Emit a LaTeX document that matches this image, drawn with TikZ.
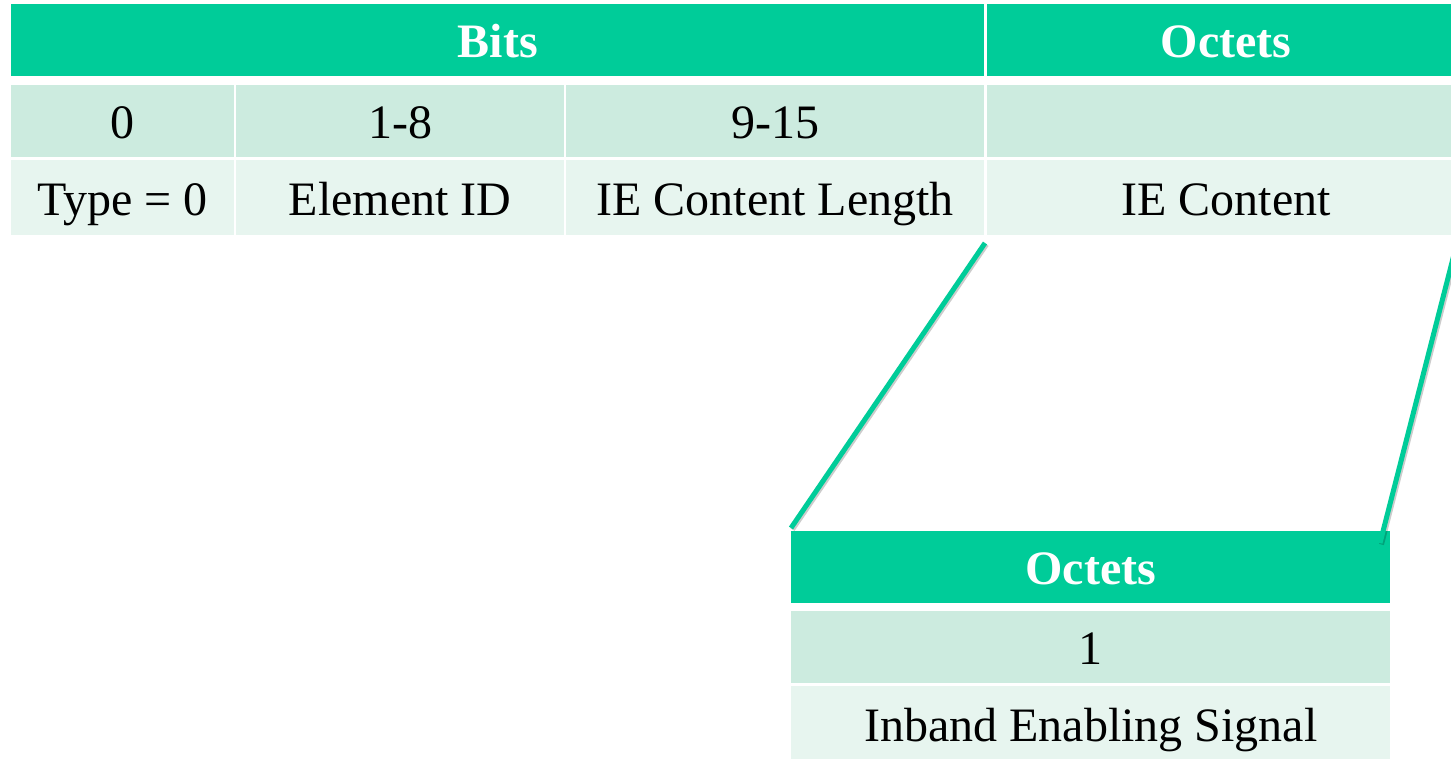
\documentclass[tikz,border=0pt]{standalone}
\usepackage{fontspec}
\setmainfont{Liberation Serif}
\definecolor{hdgreen}{RGB}{0,204,153}
\definecolor{rowmid}{RGB}{204,235,223}
\definecolor{rowlight}{RGB}{231,245,239}
\tikzset{
  cell/.style={rectangle, anchor=north west, inner sep=0pt, minimum height=72pt, text height=40pt, text depth=5pt, font=\fontsize{48}{58}\selectfont},
  head/.style={cell, fill=hdgreen, text=white, font=\fontsize{48}{58}\selectfont\bfseries},
  mid/.style={cell, fill=rowmid},
  low/.style={cell, fill=rowlight, minimum height=75pt},
  zoomline/.style={hdgreen, line width=5pt},
  zoomshade/.style={black, opacity=0.2, line width=5pt, transform canvas={shift={(1.5,1.5)}}}
}

\begin{document}
\begin{tikzpicture}[x=1pt,y=-1pt]
\clip (0,0) rectangle (1451,758);
\fill[white] (0,0) rectangle (1451,758);
% upper table
\node[head, minimum width=973pt] (bits) at (11,4) {Bits};
\node[head, minimum width=478pt] (octets) at (987,4) {Octets};
\node[mid, minimum width=223pt] (b0) at (11,85) {0};
\node[mid, minimum width=328pt] (b18) at (236,85) {1-8};
\node[mid, minimum width=418pt] (b915) at (566,85) {9-15};
\node[mid, minimum width=478pt] (bo) at (987,85) {};
\node[low, minimum width=223pt] (type) at (11,160) {Type = 0};
\node[low, minimum width=328pt] (elem) at (236,160) {Element ID};
\node[low, minimum width=418pt] (len) at (566,160) {IE Content Length};
\node[low, minimum width=478pt] (content) at (987,160) {IE Content};
% lower table
\node[head, minimum width=599pt] (inhead) at (791,531) {Octets};
\node[mid, minimum width=599pt] (inone) at (791,611) {1};
\node[low, minimum width=599pt] (insig) at (791,686) {Inband Enabling Signal};
% zoom lines
\coordinate (zla) at (985,243);
\coordinate (zlb) at (791,528);
\coordinate (zra) at (1459,235);
\coordinate (zrb) at (1380,543);
\draw[zoomshade] (zla) -- (zlb);
\draw[zoomshade] (zra) -- (zrb);
\draw[zoomline] (zla) -- (zlb);
\draw[zoomline] (zra) -- (zrb);
\end{tikzpicture}
\end{document}
